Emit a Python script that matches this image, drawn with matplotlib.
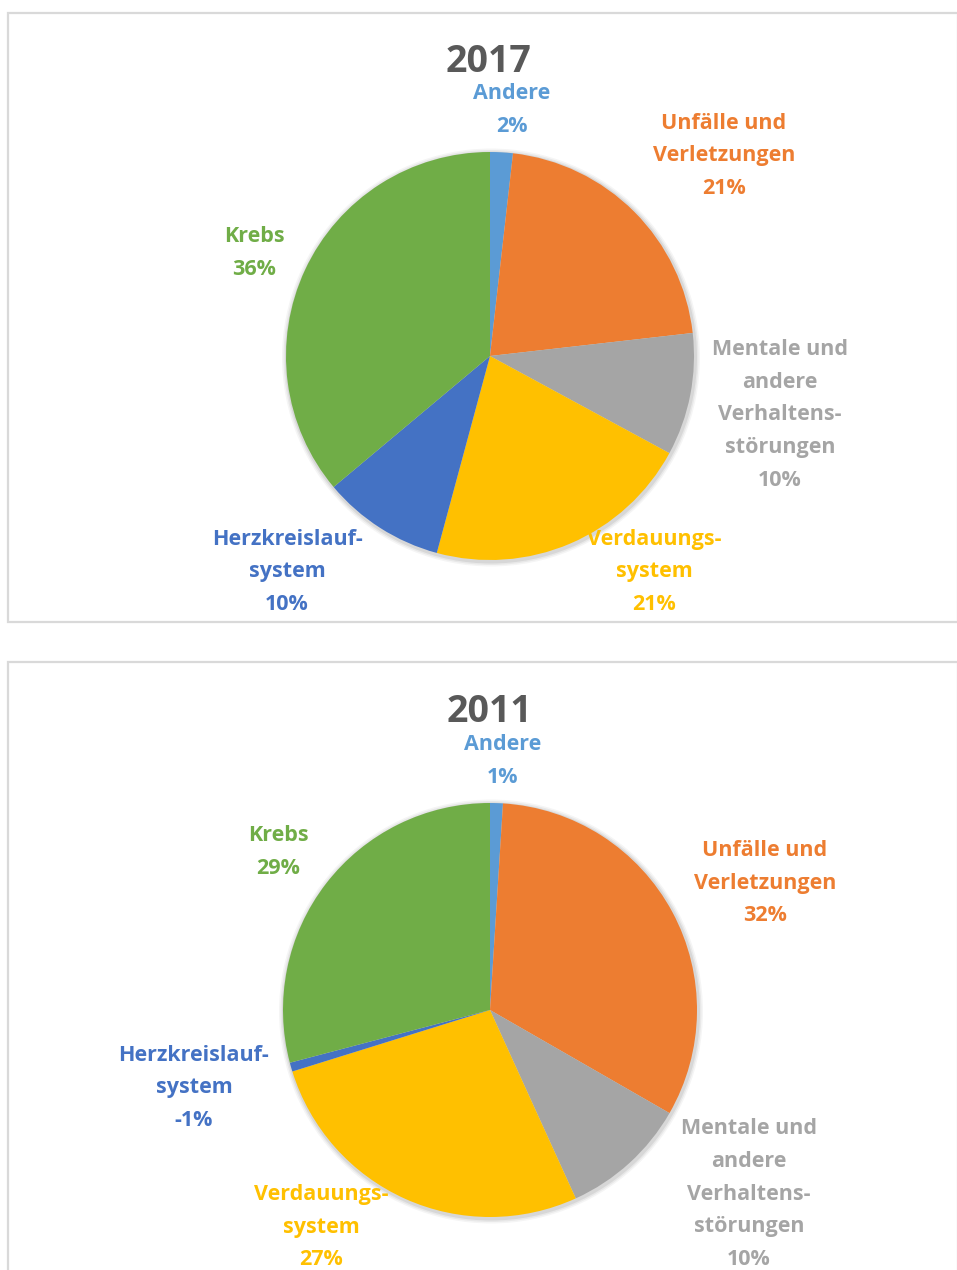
import numpy as np
import matplotlib
matplotlib.use('Agg')
import matplotlib.pyplot as plt
from matplotlib.patches import Rectangle, Circle

plt.rcParams['font.family'] = ['Open Sans', 'DejaVu Sans']

# Kategorien (im Uhrzeigersinn ab 12 Uhr)
categories = [
    ['Andere'],
    ['Unfälle und', 'Verletzungen'],
    ['Mentale und', 'andere', 'Verhaltens-', 'störungen'],
    ['Verdauungs-', 'system'],
    ['Herzkreislauf-', 'system'],
    ['Krebs'],
]
colors = ['#5B9BD5', '#ED7D31', '#A5A5A5', '#FFC000', '#4472C4', '#70AD47']

# Anteile in Prozent
years = ['2017', '2011']
values_2017 = [1.8, 21.4, 9.7, 21.3, 9.7, 36.1]
values_2011 = [1.0, 32.3, 9.9, 27.0, -0.7, 29.1]
all_values = [values_2017, values_2011]

H = 1270
fig = plt.figure(figsize=(9.57, 12.7), dpi=100)
ax = fig.add_axes([0, 0, 1, 1])

# Layout in Pixel (x, y von oben)
panels = [(8, 13, 950, 609), (8, 662, 950, 620)]
pie_centers = [(490, 356), (490, 1010)]
pie_radius = [204, 207]
title_pos = [(489, 62), (489, 712)]
label_pos = [
    [(512, 110), (724, 156), (780, 415), (654, 572), (287, 572), (254, 253)],
    [(503, 761), (765, 883), (749, 1194), (321, 1227), (194, 1088), (278, 852)],
]
line_h = 32.6

for p, (x, y, w, h) in enumerate(panels):
    ax.add_patch(Rectangle((x, H - y - h), w, h, fill=False, edgecolor='#d9d9d9',
                           linewidth=1.6, zorder=0))

    vals = all_values[p]
    cx, cy = pie_centers[p]
    r = pie_radius[p]
    # weicher Schatten
    for k, a in [(5, 0.04), (3.5, 0.05), (2, 0.07)]:
        ax.add_patch(Circle((cx + 1, H - cy - 1.5), r + k, color='#000000', alpha=a,
                            linewidth=0, zorder=1))
    ax.pie(np.abs(vals), colors=colors, startangle=90, counterclock=False,
           center=(cx, H - cy), radius=r, wedgeprops=dict(linewidth=0, zorder=2))

    tx, ty = title_pos[p]
    ax.text(tx, H - ty, years[p], ha='center', va='center', fontsize=27,
            fontweight='bold', color='#595959')

    for i, (lx, ly) in enumerate(label_pos[p]):
        lines = categories[i] + [f'{vals[i]:.0f}%']
        n = len(lines)
        for j, line in enumerate(lines):
            yy = ly + (j - (n - 1) / 2) * line_h
            ax.text(lx, H - yy, line, ha='center', va='center', fontsize=15.5,
                    fontweight='bold', color=colors[i], zorder=5)

ax.set_xlim(0, 957)
ax.set_ylim(0, H)
ax.set_aspect('equal')
ax.axis('off')

fig.savefig('out.png', dpi=100, facecolor='white')
